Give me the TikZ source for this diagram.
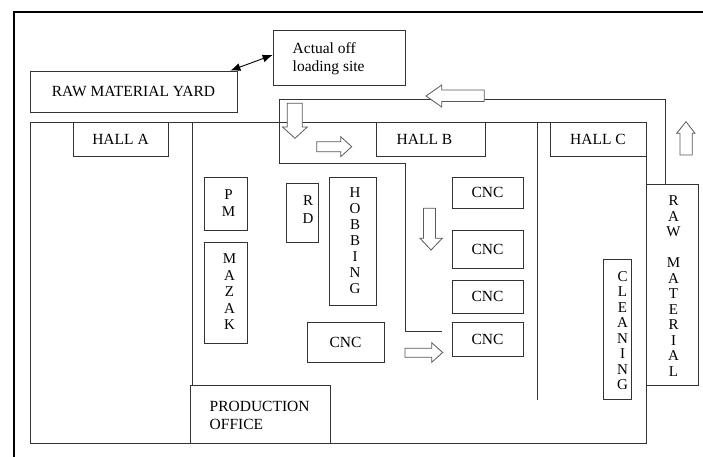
\documentclass[tikz,border=0pt]{standalone}
\usepackage{fontspec}
\setmainfont{Liberation Serif}
\usetikzlibrary{arrows.meta}
\tikzset{
  box/.style={draw=black!80, line width=0.8pt, inner sep=0pt, font=\fontsize{15.5}{17}\selectfont},
  wall/.style={draw=black!80, line width=0.8pt},
  txt/.style={inner sep=0pt, font=\fontsize{15.5}{18}\selectfont},
  harrow/.style={draw=black!65, fill=white, line width=0.8pt, line join=miter},
  frame/.style={draw=black, line width=2pt},
  vt/.style={align=center, inner sep=0pt, font=\fontsize{15}{#1}\selectfont}
}
\begin{document}
\begin{tikzpicture}[x=1pt,y=-1pt]
\useasboundingbox (0,0) rectangle (703,457);
% page frame
\draw[frame] (14,457) -- (14,12) -- (703,12);
% main hall outline
\draw[wall] (30,122) rectangle (646,443);
\draw[wall] (192,122) -- (192,385);
\draw[wall] (537,122) -- (537,400);
% boxes
\node[box, minimum width=207pt, minimum height=41pt] (yard) at (133.5,91.5) {RAW MATERIAL YARD};
\node[box, minimum width=132pt, minimum height=55pt] (off) at (339,57.5) {};
\node[txt, anchor=west, align=left] (offt) at (292.5,59) {Actual off\\loading site};
\node[box, minimum width=95pt, minimum height=34pt] (hallA) at (120.5,139) {HALL A};
\node[box, minimum width=109pt, minimum height=34pt] (hallB) at (430.5,139) {};
\node[txt] (hallBt) at (424.5,139.5) {HALL B};
\node[box, minimum width=96pt, minimum height=34pt] (hallC) at (598,139) {HALL C};
\node[box, minimum width=140pt, minimum height=58pt] (prod) at (260,414) {};
\node[txt, anchor=west, align=left] (prodt) at (209.5,415) {PRODUCTION\\OFFICE};
\node[box, minimum width=43pt, minimum height=53pt] (pm) at (225.5,203.5) {};
\node[vt=17.7] (pmt) at (228.5,203) {P\\M};
\node[box, minimum width=43pt, minimum height=101pt] (mazak) at (225.5,292.5) {};
\node[vt=16.5] (mazakt) at (229.5,292) {M\\A\\Z\\A\\K};
\node[box, minimum width=32pt, minimum height=59pt] (rd) at (302,212.5) {};
\node[vt=18] (rdt) at (308,210) {R\\D};
\node[box, minimum width=47pt, minimum height=128pt] (hob) at (352.5,241) {};
\node[vt=15.9] (hobt) at (355,240.5) {H\\O\\B\\B\\I\\N\\G};
\node[box, minimum width=77pt, minimum height=40pt] (cncm) at (345.5,342) {CNC};
\node[box, minimum width=71pt, minimum height=31pt] (cnc1) at (487.5,192.5) {CNC};
\node[box, minimum width=71pt, minimum height=38pt] (cnc2) at (487.5,249) {CNC};
\node[box, minimum width=71pt, minimum height=33pt] (cnc3) at (487.5,296.5) {CNC};
\node[box, minimum width=71pt, minimum height=34pt] (cnc4) at (487.5,339) {CNC};
\node[box, minimum width=28pt, minimum height=140pt] (clean) at (617,329) {};
\node[vt=15.5] (cleant) at (622.5,330.5) {C\\L\\E\\A\\N\\I\\N\\G};
\node[box, minimum width=52pt, minimum height=201pt] (rawm) at (672,284.5) {};
\node[vt=15.5] (rawmt) at (673.5,286) {R\\A\\W\\~\\M\\A\\T\\E\\R\\I\\A\\L};
% connector yard <-> off-loading site
\draw[line width=0.9pt, {Latex[length=10pt,width=8pt]}-{Latex[length=10pt,width=8pt]}]
  ([xshift=-7pt]yard.north east) -- ([yshift=2.5pt]off.west);
% material route
\coordinate (r0) at (442,331);
\coordinate (r6) at (665,184);
\draw[wall] (r0) -- (405,331) -- (405,163) -- (279,163) -- (279,99) -- (665,99) -- (r6);
% hollow arrows
\draw[harrow] (287.3,103.3) -- (302.3,103.3) -- (302.3,127) -- (307.3,127) -- (295,138.3) -- (282.5,127) -- (287.3,127) -- cycle;
\draw[harrow] (316.7,141.7) -- (340.7,141.7) -- (340.7,136.7) -- (351.7,146.7) -- (340.7,156.7) -- (340.7,151.7) -- (316.7,151.7) -- cycle;
\draw[harrow] (484.3,90) -- (441.7,90) -- (441.7,85) -- (426,96) -- (441.7,107) -- (441.7,101.5) -- (484.3,101.5) -- cycle;
\draw[harrow] (680,155) -- (680,133.3) -- (676.7,133.3) -- (686,121.7) -- (695,133.3) -- (692.3,133.3) -- (692.3,155) -- cycle;
\draw[harrow] (423.5,208.3) -- (435.5,208.3) -- (435.5,238.3) -- (442.3,238.3) -- (431,250) -- (420,238.3) -- (423.5,238.3) -- cycle;
\draw[harrow] (405,348.3) -- (431.7,348.3) -- (431.7,342.7) -- (442.7,352.5) -- (431.7,362.3) -- (431.7,357.3) -- (405,357.3) -- cycle;
\end{tikzpicture}
\end{document}
